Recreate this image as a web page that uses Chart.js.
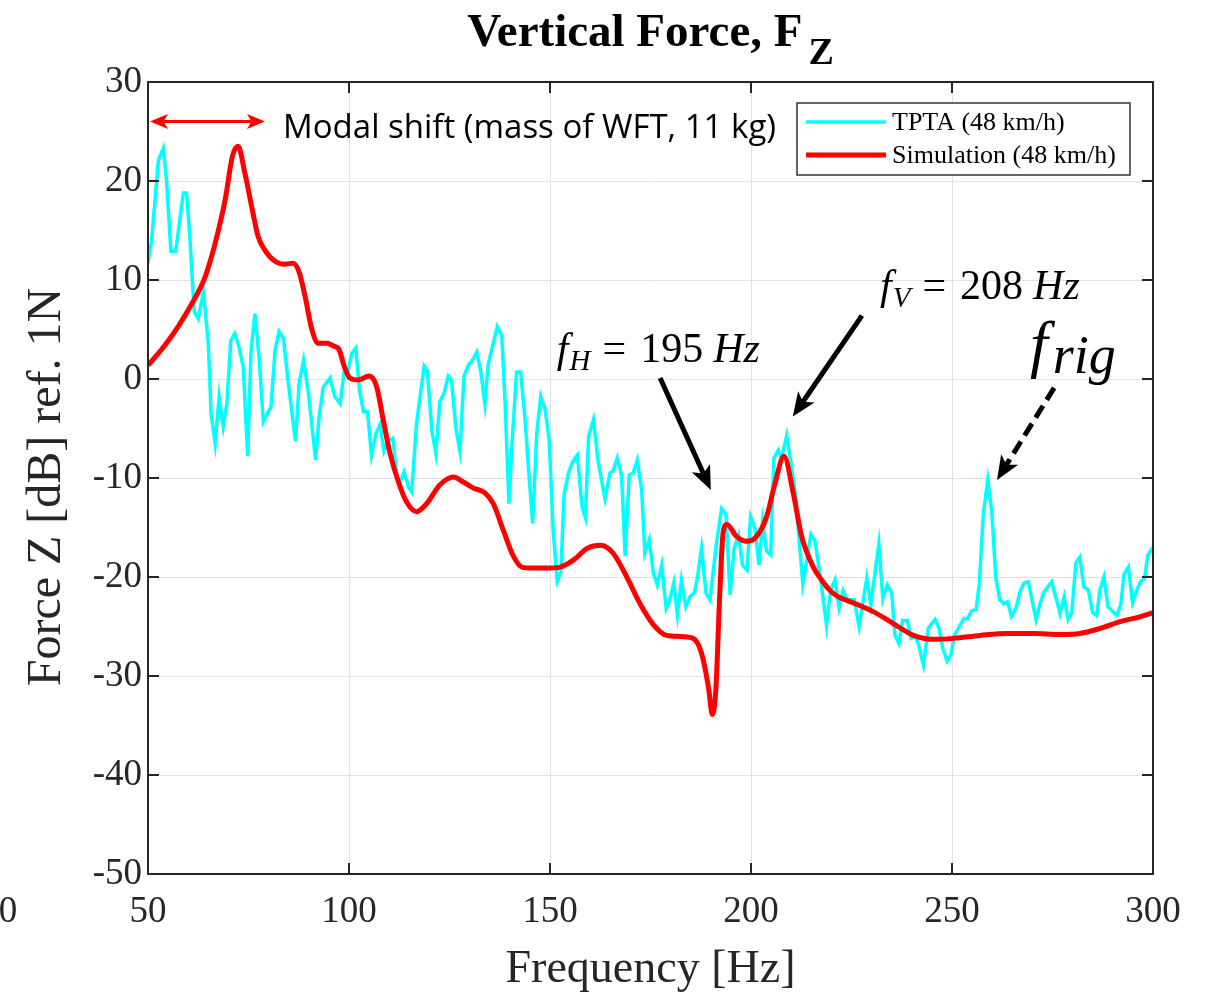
<!DOCTYPE html>
<html>
<head>
<meta charset="utf-8">
<title>Vertical Force, FZ</title>
<script src="https://cdn.jsdelivr.net/npm/chart.js@4.4.1/dist/chart.umd.min.js"></script>
<style>
  html, body { margin: 0; padding: 0; background: #fff; }
  #wrap { width: 1207px; height: 995px; }
</style>
</head>
<body>
<div id="wrap"><canvas id="forceChart" width="1207" height="995"></canvas></div>
<script>
// Measured spectrum (TPTA rig, 48 km/h)
const tptaFreq = [
  50.0, 50.9, 52.6, 53.8, 54.6, 55.7, 56.9, 58.8, 59.6, 60.4, 61.5, 62.5, 63.8, 65.0, 65.7, 66.7,
  67.7, 68.7, 69.6, 70.6, 71.6, 72.6, 73.7, 74.8, 75.6, 76.6, 77.6, 78.7, 80.6, 81.6, 82.6, 83.7,
  84.9, 86.7, 87.6, 88.7, 89.9, 91.7, 92.5, 93.6, 95.3, 96.5, 97.8, 98.8, 99.8, 100.7, 101.7, 102.6,
  103.6, 104.6, 105.6, 106.7, 107.7, 108.7, 109.8, 110.9, 111.9, 112.7, 113.7, 114.8, 115.6, 116.8,
  118.7, 119.5, 120.6, 121.6, 122.6, 123.6, 124.7, 125.5, 126.6, 127.6, 128.6, 129.7, 130.7, 131.8,
  132.8, 133.8, 134.6, 135.7, 136.9, 138.0, 138.8, 139.8, 140.7, 141.7, 142.7, 143.8, 144.9, 145.7,
  146.7, 147.7, 148.8, 149.8, 150.8, 151.8, 152.7, 153.5, 154.6, 155.6, 156.8, 158.0, 158.8, 159.6,
  160.8, 162.0, 163.7, 164.9, 165.7, 166.7, 167.8, 168.7, 169.7, 170.7, 171.7, 172.8, 173.6, 174.7,
  175.7, 176.7, 177.8, 178.9, 179.7, 180.8, 181.7, 182.7, 183.8, 184.8, 185.9, 186.7, 187.7, 188.8,
  189.8, 191.5, 192.7, 193.8, 194.8, 195.8, 196.9, 197.9, 199.0, 199.9, 201.0, 202.0, 202.9, 203.9,
  204.9, 205.7, 206.8, 207.6, 208.9, 210.1, 211.0, 212.9, 213.8, 214.9, 215.9, 217.2, 218.8, 219.8,
  220.9, 221.9, 222.9, 224.0, 225.7, 226.9, 228.8, 229.8, 231.8, 232.8, 233.9, 235.0, 235.8, 236.8,
  237.7, 238.9, 239.8, 240.9, 241.6, 242.9, 244.1, 245.0, 245.8, 246.8, 247.7, 248.8, 249.7, 250.6,
  251.8, 253.0, 253.9, 254.9, 256.0, 256.8, 257.8, 258.9, 259.9, 260.9, 261.9, 262.9, 263.8, 264.8,
  265.9, 266.9, 267.9, 269.0, 270.9, 271.9, 272.9, 274.8, 276.9, 277.9, 278.9, 279.8, 280.8, 281.8,
  282.8, 283.9, 285.0, 286.0, 286.8, 287.8, 288.8, 290.0, 291.0, 292.0, 292.8, 293.9, 294.9, 296.0,
  297.0, 297.9, 298.7, 300.0
];
const tptaDb = [
  11.7, 14.0, 22.1, 23.3, 20.1, 12.9, 12.9, 18.8, 18.8, 14.4, 6.8, 6.1, 8.8, 3.6, -3.5, -6.5,
  -1.8, -4.8, -2.5, 3.9, 4.6, 3.3, 1.2, -7.8, 2.6, 6.6, 2.3, -4.3, -2.8, 2.9, 4.8, 4.1,
  -0.4, -6.3, -0.4, 1.9, -1.4, -8.2, -4.1, -0.8, 0.1, -1.8, -2.5, 0.7, 0.9, 2.6, 3.1, -1.1,
  -3.3, -3.3, -7.7, -5.5, -4.6, -7.3, -6.2, -6.0, -9.9, -10.4, -9.4, -10.9, -11.4, -4.5,
  1.3, 0.8, -5.2, -7.5, -2.3, -1.5, 0.3, -0.1, -5.0, -7.3, 0.3, 1.4, 1.9, 2.7,
  0.7, -2.5, 1.4, 3.3, 5.3, 4.4, -2.1, -12.6, -5.5, 0.7, 0.7, -4.1, -10.4, -14.6,
  -5.5, -1.8, -3.1, -6.2, -15.3, -20.4, -19.5, -11.7, -9.5, -8.4, -7.7, -13.0, -14.0, -5.8,
  -4.1, -8.4, -12.1, -9.5, -9.3, -8.0, -9.7, -17.9, -9.7, -9.5, -8.2, -11.2, -17.6, -16.2,
  -19.6, -20.8, -18.8, -23.2, -22.5, -20.6, -23.8, -20.3, -23.0, -22.0, -21.6, -20.0, -17.1, -21.6,
  -22.3, -16.3, -13.1, -13.7, -21.8, -17.1, -15.8, -18.8, -19.3, -13.9, -15.1, -18.8, -14.4, -17.4,
  -17.8, -8.0, -7.2, -8.0, -5.7, -8.9, -11.5, -20.7, -18.5, -15.7, -16.3, -19.8, -24.9, -21.3,
  -20.3, -23.1, -21.4, -22.3, -22.3, -25.0, -20.1, -22.8, -16.7, -22.2, -20.8, -21.6, -25.9, -26.7,
  -24.4, -24.4, -26.2, -26.0, -26.7, -28.9, -25.2, -24.7, -24.3, -25.2, -27.2, -28.5, -27.9, -25.9,
  -25.0, -24.2, -24.2, -23.4, -23.3, -20.6, -13.6, -10.2, -13.4, -20.1, -22.3, -22.7, -22.5, -24.0,
  -23.2, -21.5, -20.6, -20.5, -24.3, -22.7, -21.5, -20.5, -23.7, -22.0, -24.3, -23.6, -18.6, -18.0,
  -21.0, -21.3, -23.6, -23.9, -21.3, -20.0, -23.0, -23.5, -23.9, -22.8, -19.7, -19.0, -22.6, -21.3,
  -20.4, -20.2, -17.8, -17.0
];

// Simulated response (48 km/h)
const simFreq = [
  50.0, 52.0, 54.2, 57.5, 60.9, 64.2, 66.7, 69.2, 71.0, 72.4, 74.1, 75.8, 77.4, 79.1, 81.6, 84.1,
  86.1, 87.6, 89.1, 90.7, 92.4, 94.5, 96.3, 97.5, 98.8, 100.2, 102.3, 105.0, 106.9, 108.5, 110.2,
  112.3, 114.3, 116.8, 119.3, 122.6, 126.0, 128.4, 130.9, 133.8, 135.9, 138.4, 140.9, 143.0, 145.9,
  149.2, 152.5, 155.8, 159.3, 162.6, 165.7, 169.1, 172.4, 175.7, 179.0, 182.3, 185.6, 187.7, 189.4,
  190.4, 191.3, 192.1, 193.1, 194.0, 196.4, 198.9, 201.4, 203.9, 206.0, 208.2, 210.5, 212.6, 215.5,
  217.2, 219.5, 221.3, 225.4, 230.4, 235.4, 240.4, 245.3, 250.3, 257.0, 263.6, 270.2, 276.9, 281.8,
  286.8, 291.8, 296.0, 300.0
];
const simDb = [
  1.4, 2.3, 3.4, 5.3, 7.6, 10.3, 13.7, 18.1, 22.5, 23.5, 20.8, 17.4, 14.4, 13.0, 11.9, 11.6,
  11.7, 10.8, 8.3, 5.1, 3.6, 3.6, 3.3, 3.0, 1.3, 0.1, -0.1, 0.3, -0.8, -4.1, -7.5,
  -10.4, -12.4, -13.4, -12.6, -10.7, -9.9, -10.4, -11.0, -11.5, -12.6, -15.3, -17.9, -19.0, -19.1,
  -19.1, -19.0, -18.3, -17.1, -16.8, -17.6, -20.0, -22.7, -24.8, -25.9, -26.0, -26.2, -27.7, -31.1,
  -33.9, -31.1, -23.0, -15.4, -14.7, -15.9, -16.4, -15.9, -13.9, -10.5, -7.8, -11.5, -15.9, -19.0,
  -20.1, -21.3, -21.9, -22.6, -23.5, -24.7, -25.9, -26.3, -26.2, -25.9, -25.7, -25.7, -25.8, -25.7,
  -25.2, -24.5, -24.1, -23.6
];

const xTickValues = [50, 100, 150, 200, 250, 300];
const yTickValues = [-50, -40, -30, -20, -10, 0, 10, 20, 30];

const seriesNames = ['TPTA (48 km/h)', 'Simulation (48 km/h)'];
const seriesColors = ['#00ffff', '#ff0000'];

const SERIF = '"Liberation Serif", "Times New Roman", serif';
const AXIS = '#262626';

function toPoints(xs, ys) {
  return xs.map((x, i) => ({ x: x, y: ys[i] }));
}

// filled, swept-back arrow head with its tip at (x2, y2); returns the notch point
function head(ctx, x1, y1, x2, y2, len, wid) {
  const a = Math.atan2(y2 - y1, x2 - x1);
  const c = Math.cos(a), s = Math.sin(a);
  const bx = x2 - len * c, by = y2 - len * s;
  const nx = x2 - len * 0.75 * c, ny = y2 - len * 0.75 * s;
  ctx.beginPath();
  ctx.moveTo(x2, y2);
  ctx.lineTo(bx + wid / 2 * s, by - wid / 2 * c);
  ctx.lineTo(nx, ny);
  ctx.lineTo(bx - wid / 2 * s, by + wid / 2 * c);
  ctx.closePath();
  ctx.fill();
  return [nx, ny];
}

function arrow(ctx, x1, y1, x2, y2, o) {
  ctx.save();
  ctx.strokeStyle = o.color;
  ctx.fillStyle = o.color;
  ctx.lineWidth = o.width;
  let start = [x1, y1];
  if (o.both) start = head(ctx, x2, y2, x1, y1, o.head, o.headW);
  const end = head(ctx, x1, y1, x2, y2, o.head, o.headW);
  ctx.setLineDash(o.dash || []);
  ctx.beginPath();
  ctx.moveTo(start[0], start[1]);
  ctx.lineTo(end[0], end[1]);
  ctx.stroke();
  ctx.restore();
}

// runs of text with their own style and baseline shift, drawn left to right
function mathText(ctx, parts, x, y) {
  let cx = x;
  parts.forEach(p => {
    ctx.font = (p.italic ? 'italic ' : '') + p.size + 'px ' + SERIF;
    ctx.fillText(p.t, cx, y + (p.dy || 0));
    cx += ctx.measureText(p.t).width + (p.gap || 0);
  });
}

function freqLabel(sub, value) {
  return [
    { t: 'f', italic: true, size: 42, gap: 1 },
    { t: sub, italic: true, size: 29, dy: 8, gap: 12 },
    { t: '=', size: 42, gap: 14 },
    { t: value, size: 42, gap: 10 },
    { t: 'Hz', italic: true, size: 42 }
  ];
}

const overlay = {
  id: 'overlay',
  afterDraw(chart) {
    const ctx = chart.ctx;
    const area = chart.chartArea;
    const xs = chart.scales.x, ys = chart.scales.y;
    const px = v => xs.getPixelForValue(v);
    const py = v => ys.getPixelForValue(v);

    ctx.save();

    // axes box and inward ticks
    ctx.strokeStyle = AXIS;
    ctx.lineWidth = 2;
    ctx.strokeRect(area.left, area.top, area.right - area.left, area.bottom - area.top);
    ctx.beginPath();
    xTickValues.forEach(v => {
      const x = px(v);
      ctx.moveTo(x, area.bottom); ctx.lineTo(x, area.bottom - 11);
      ctx.moveTo(x, area.top); ctx.lineTo(x, area.top + 11);
    });
    yTickValues.forEach(v => {
      const y = py(v);
      ctx.moveTo(area.left, y); ctx.lineTo(area.left + 11, y);
      ctx.moveTo(area.right, y); ctx.lineTo(area.right - 11, y);
    });
    ctx.stroke();

    // title with subscript
    ctx.fillStyle = '#000';
    ctx.textBaseline = 'alphabetic';
    ctx.font = 'bold 47px ' + SERIF;
    const t1 = 'Vertical Force, F';
    const w1 = ctx.measureText(t1).width;
    ctx.font = 'bold 38px ' + SERIF;
    const w2 = ctx.measureText('Z').width;
    const tx = (area.left + area.right) / 2 - (w1 + w2 + 6) / 2;
    ctx.font = 'bold 47px ' + SERIF;
    ctx.fillText(t1, tx, 46);
    ctx.font = 'bold 38px ' + SERIF;
    ctx.fillText('Z', tx + w1 + 6, 64);

    // axis titles
    ctx.fillStyle = AXIS;
    ctx.font = '46px ' + SERIF;
    ctx.textAlign = 'center';
    ctx.fillText('Frequency [Hz]', (area.left + area.right) / 2, 982);
    ctx.save();
    ctx.translate(60, (area.top + area.bottom) / 2 + 9);
    ctx.rotate(-Math.PI / 2);
    ctx.font = '48px ' + SERIF;
    ctx.fillText('Force Z [dB] ref. 1N', 0, 0);
    ctx.restore();
    ctx.font = '37px ' + SERIF;
    ctx.textBaseline = 'middle';
    ctx.fillText('0', 8, 912);

    // modal shift marker
    ctx.textAlign = 'left';
    ctx.textBaseline = 'alphabetic';
    arrow(ctx, px(50.5), py(26), px(79.1), py(26),
      { color: '#ff0000', width: 3, head: 18, headW: 15, both: true });
    ctx.fillStyle = '#000';
    ctx.font = '33px "Open Sans", "Noto Sans", sans-serif';
    ctx.fillText('Modal shift (mass of WFT, 11 kg)', px(83.6), py(24.3));

    // natural frequency callouts
    const black = { color: '#000', width: 5, head: 24, headW: 20 };
    arrow(ctx, px(177.4), py(0.1), px(190.0), py(-11.2), black);
    arrow(ctx, px(227.6), py(6.4), px(210.4), py(-3.8), black);
    arrow(ctx, px(275.4), py(-0.9), px(261.2), py(-10.2), Object.assign({}, black, { dash: [14, 7] }));

    ctx.fillStyle = '#000';
    mathText(ctx, freqLabel('H', '195'), px(151.7), py(1.7));
    mathText(ctx, freqLabel('V', '208'), px(232.1), py(8.1));
    mathText(ctx, [
      { t: 'f', italic: true, size: 64, gap: 5 },
      { t: 'rig', italic: true, size: 54, dy: 8 }
    ], px(269.4), py(1.4));

    // legend
    const lx = area.right - 356, ly = area.top + 21, lw = 333, lh = 72;
    ctx.fillStyle = '#fff';
    ctx.fillRect(lx, ly, lw, lh);
    ctx.strokeStyle = '#333';
    ctx.lineWidth = 1.5;
    ctx.strokeRect(lx, ly, lw, lh);
    ctx.font = '26px ' + SERIF;
    ctx.textBaseline = 'middle';
    seriesNames.forEach((name, i) => {
      const yy = ly + 19 + i * 33;
      ctx.strokeStyle = seriesColors[i];
      ctx.lineWidth = i === 0 ? 3.5 : 5;
      ctx.beginPath();
      ctx.moveTo(lx + 9, yy);
      ctx.lineTo(lx + 89, yy);
      ctx.stroke();
      ctx.fillStyle = '#000';
      ctx.fillText(name, lx + 95, yy + 1);
    });

    ctx.restore();
  }
};

const ctx = document.getElementById('forceChart').getContext('2d');
const forceChart = new Chart(ctx, {
  type: 'line',
  data: {
    datasets: [{
      label: seriesNames[1],
      data: toPoints(simFreq, simDb),
      borderColor: seriesColors[1],
      borderWidth: 5,
      pointRadius: 0,
      cubicInterpolationMode: 'monotone',
      fill: false,
      order: 0
    }, {
      label: seriesNames[0],
      data: toPoints(tptaFreq, tptaDb),
      borderColor: seriesColors[0],
      borderWidth: 3.5,
      pointRadius: 0,
      tension: 0,
      fill: false,
      order: 1
    }]
  },
  options: {
    responsive: false,
    animation: false,
    layout: { padding: { top: 82, right: 54, left: 0, bottom: 0 } },
    plugins: {
      legend: { display: false },
      title: { display: false },
      tooltip: { enabled: false }
    },
    scales: {
      x: {
        type: 'linear',
        min: 50,
        max: 300,
        afterFit: s => { s.height = 121; },
        afterBuildTicks: s => { s.ticks = xTickValues.map(v => ({ value: v })); },
        grid: { color: '#e3e3e3', lineWidth: 1, drawTicks: false },
        border: { display: false },
        ticks: { color: AXIS, padding: 16, font: { family: SERIF, size: 37 } }
      },
      y: {
        min: -50,
        max: 30,
        afterFit: s => { s.width = 148; },
        afterBuildTicks: s => { s.ticks = yTickValues.map(v => ({ value: v })); },
        grid: { color: '#e3e3e3', lineWidth: 1, drawTicks: false },
        border: { display: false },
        ticks: { color: AXIS, padding: 6, font: { family: SERIF, size: 37 } }
      }
    }
  },
  plugins: [overlay]
});
</script>
</body>
</html>
